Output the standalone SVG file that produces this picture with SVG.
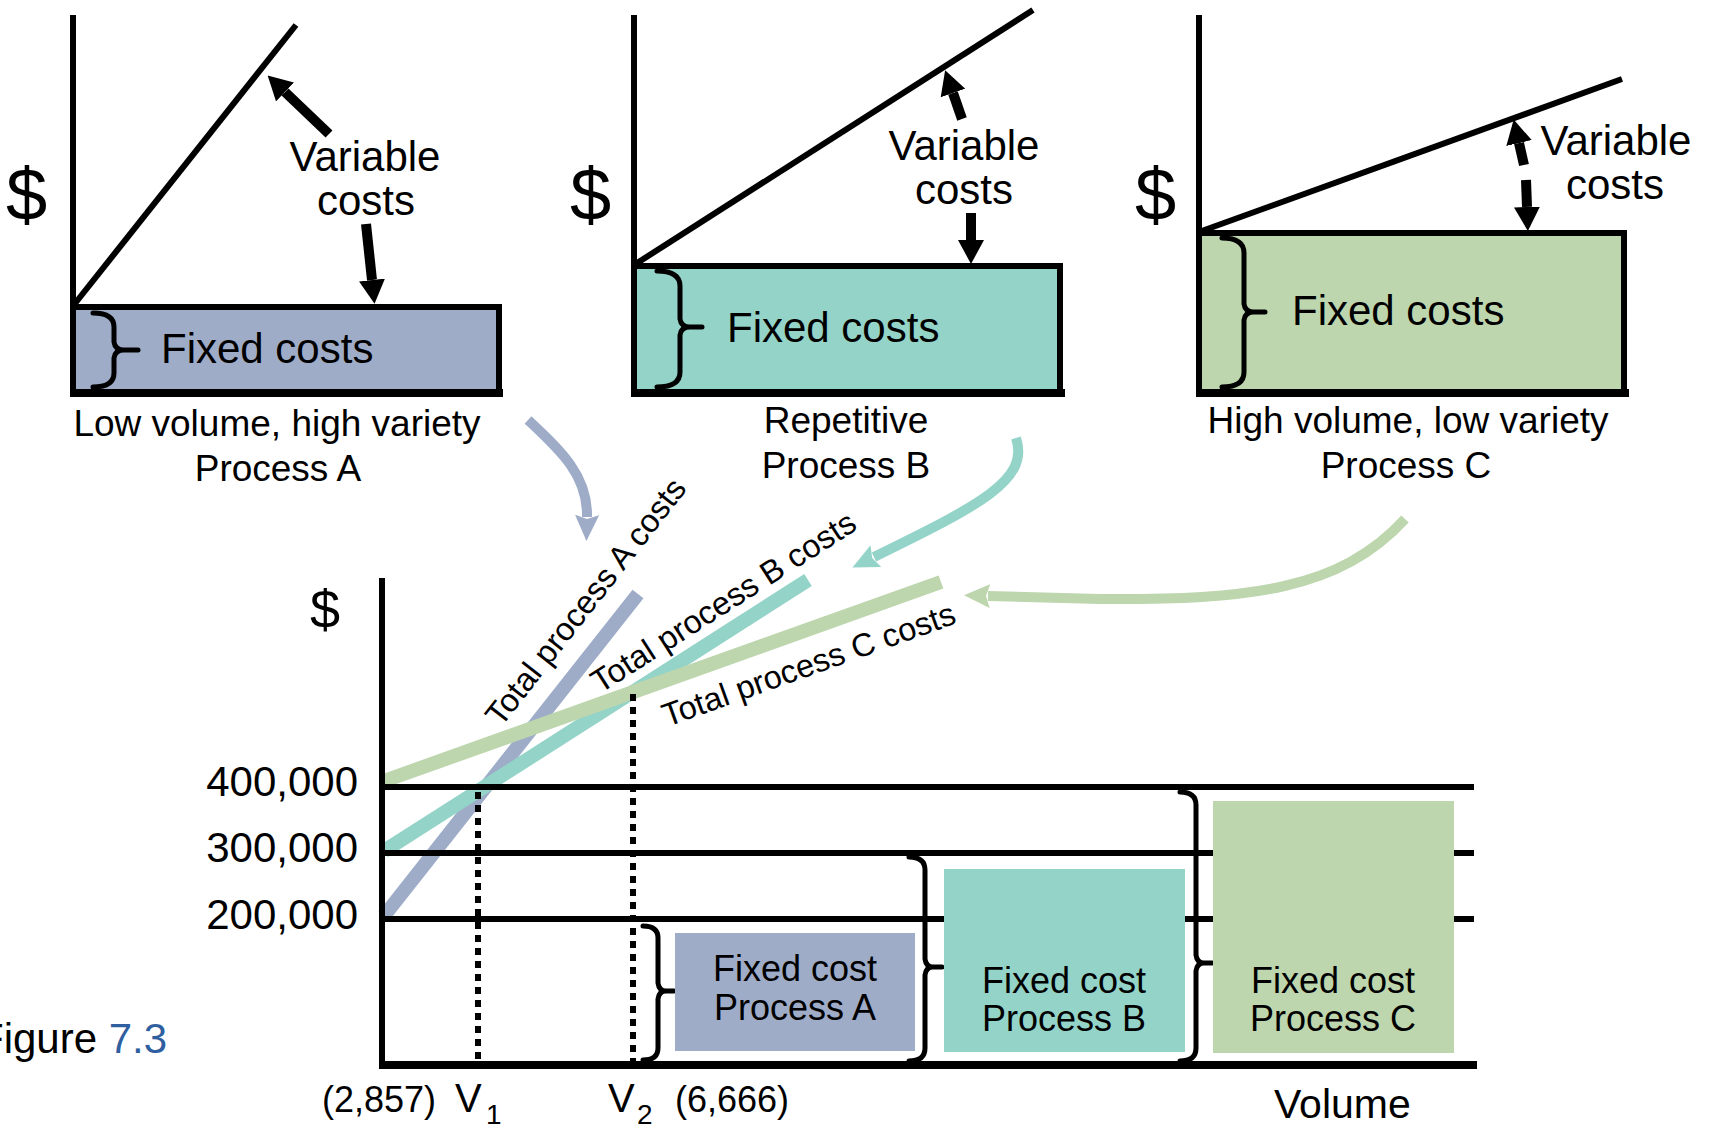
<svg xmlns="http://www.w3.org/2000/svg" width="1712" height="1126" viewBox="0 0 1712 1126">
  <style>
    text { font-family: "Liberation Sans", Arial, sans-serif; fill: #000; }
    .axis { stroke: #000; stroke-width: 6; fill: none; }
    .base { stroke: #000; stroke-width: 8; fill: none; }
    .brace { stroke: #000; stroke-width: 5; fill: none; stroke-linejoin: round; stroke-linecap: round; }
    .ptr { stroke: #000; stroke-width: 10; fill: none; }
    .lbl { font-size: 42px; text-anchor: middle; }
    .cap { font-size: 37px; text-anchor: middle; }
    .fx { font-size: 42px; }
    .dol { font-size: 74px; }
    .tick { font-size: 42px; text-anchor: end; }
    .curve { font-size: 32.5px; }
    .fc { font-size: 36px; text-anchor: middle; }
    .flow { fill: none; stroke-width: 10; }
    .tot { fill: none; stroke-width: 14; stroke-linecap: butt; }
    .dash { stroke: #000; stroke-width: 6; stroke-dasharray: 7 6; }
  </style>
  <defs>
    <marker id="hd" viewBox="0 -13 24 26" markerUnits="userSpaceOnUse" markerWidth="24" markerHeight="26" refX="0" refY="0" orient="auto">
      <path d="M0,-13 L24,0 L0,13 z" fill="#000"/>
    </marker>
    <marker id="hdA" viewBox="-2 -12 26 24" markerUnits="userSpaceOnUse" markerWidth="26" markerHeight="24" refX="0" refY="0" orient="auto">
      <path d="M-2,-12 L24,0 L-2,12 L2,0 z" fill="#9eacc8"/>
    </marker>
    <marker id="hdB" viewBox="-2 -12 26 24" markerUnits="userSpaceOnUse" markerWidth="26" markerHeight="24" refX="0" refY="0" orient="auto">
      <path d="M-2,-12 L24,0 L-2,12 L2,0 z" fill="#93d3c8"/>
    </marker>
    <marker id="hdC" viewBox="-2 -12 26 24" markerUnits="userSpaceOnUse" markerWidth="26" markerHeight="24" refX="0" refY="0" orient="auto">
      <path d="M-2,-12 L24,0 L-2,12 L2,0 z" fill="#bdd6ae"/>
    </marker>
  </defs>
  <rect width="1712" height="1126" fill="#fff"/>

  <!-- Process A: low volume, high variety -->
  <g id="chart-a">
    <rect x="73" y="307" width="426" height="86" fill="#9eacc8" stroke="#000" stroke-width="6"/>
    <line class="axis" x1="73" y1="15" x2="73" y2="393"/>
    <line class="base" x1="70" y1="393" x2="503" y2="393"/>
    <line class="axis" x1="73" y1="306" x2="296" y2="25"/>
    <path class="brace" d="M93,313 Q114,313 114,327 L114,342 Q115,350 124,350 L138,350 L124,350 Q115,350 114,358 L114,373 Q114,387 93,387"/>
    <text class="fx" x="161" y="363">Fixed costs</text>
    <text class="dol" x="6" y="220">$</text>
    <text class="lbl" x="365" y="171">Variable</text>
    <text class="lbl" x="366" y="215">costs</text>
    <line class="ptr" x1="329" y1="134" x2="285" y2="92" marker-end="url(#hd)"/>
    <line class="ptr" x1="366" y1="224" x2="372" y2="280" marker-end="url(#hd)"/>
    <text class="cap" x="277" y="436">Low volume, high variety</text>
    <text class="cap" x="278" y="481">Process A</text>
  </g>

  <!-- Process B: repetitive -->
  <g id="chart-b">
    <rect x="634" y="266" width="426" height="127" fill="#93d3c8" stroke="#000" stroke-width="6"/>
    <line class="axis" x1="634" y1="15" x2="634" y2="393"/>
    <line class="base" x1="631" y1="393" x2="1065" y2="393"/>
    <line class="axis" x1="634" y1="265" x2="1033" y2="10"/>
    <path class="brace" d="M657,271 Q680,271 680,286 L680,319 Q681,327 690,327 L702,327 L690,327 Q681,327 680,335 L680,372 Q680,387 657,387"/>
    <text class="fx" x="727" y="342">Fixed costs</text>
    <text class="dol" x="570" y="220">$</text>
    <text class="lbl" x="964" y="160">Variable</text>
    <text class="lbl" x="964" y="204">costs</text>
    <line class="ptr" x1="962" y1="119" x2="953" y2="93" marker-end="url(#hd)"/>
    <line class="ptr" x1="971" y1="213" x2="971" y2="240" marker-end="url(#hd)"/>
    <text class="cap" x="846" y="433">Repetitive</text>
    <text class="cap" x="846" y="478">Process B</text>
  </g>

  <!-- Process C: high volume, low variety -->
  <g id="chart-c">
    <rect x="1199" y="233" width="425" height="160" fill="#bdd6ae" stroke="#000" stroke-width="6"/>
    <line class="axis" x1="1199" y1="15" x2="1199" y2="393"/>
    <line class="base" x1="1196" y1="393" x2="1629" y2="393"/>
    <line class="axis" x1="1199" y1="232" x2="1622" y2="79"/>
    <path class="brace" d="M1222,238 Q1244,238 1244,253 L1244,304 Q1245,312 1254,312 L1265,312 L1254,312 Q1245,312 1244,320 L1244,372 Q1244,387 1222,387"/>
    <text class="fx" x="1292" y="325">Fixed costs</text>
    <text class="dol" x="1135" y="220">$</text>
    <text class="lbl" x="1616" y="155">Variable</text>
    <text class="lbl" x="1615" y="199">costs</text>
    <line class="ptr" x1="1524" y1="165" x2="1519" y2="143" marker-end="url(#hd)"/>
    <line class="ptr" x1="1526" y1="180" x2="1527" y2="207" marker-end="url(#hd)"/>
    <text class="cap" x="1408" y="433">High volume, low variety</text>
    <text class="cap" x="1406" y="478">Process C</text>
  </g>

  <!-- Flow arrows from each process into the comparison chart -->
  <g id="connectors">
    <path class="flow" stroke="#9eacc8" d="M528,420 C560,450 588,475 587,517" marker-end="url(#hdA)"/>
    <path class="flow" stroke="#93d3c8" d="M1016,438 C1030,480 980,505 874,557" marker-end="url(#hdB)"/>
    <path class="flow" stroke="#bdd6ae" d="M1405,519 C1340,590 1250,600 1100,599 L988,596" marker-end="url(#hdC)"/>
  </g>

  <!-- Break-even comparison chart -->
  <g id="comparison">
    <text x="310" y="628" style="font-size:54px">$</text>
    <text class="tick" x="358" y="796">400,000</text>
    <text class="tick" x="358" y="862">300,000</text>
    <text class="tick" x="358" y="929">200,000</text>

    <line class="tot" stroke="#9eacc8" x1="384" y1="916" x2="638" y2="594"/>
    <line class="tot" stroke="#93d3c8" x1="384" y1="851" x2="808" y2="580"/>
    <line class="tot" stroke="#bdd6ae" x1="384" y1="781" x2="941" y2="582"/>

    <text class="curve" transform="translate(501,728) rotate(-52)">Total process A costs</text>
    <text class="curve" transform="translate(600,694) rotate(-32.6)">Total process B costs</text>
    <text class="curve" transform="translate(667,727) rotate(-19.7)">Total process C costs</text>

    <line class="dash" x1="478" y1="792" x2="478" y2="1062"/>
    <line class="dash" x1="633" y1="694" x2="633" y2="1062"/>

    <line class="axis" x1="382" y1="787" x2="1474" y2="787"/>
    <line class="axis" x1="382" y1="853" x2="1474" y2="853"/>
    <line class="axis" x1="382" y1="919" x2="1474" y2="919"/>
    <line class="axis" x1="382" y1="578" x2="382" y2="1065"/>
    <line class="base" x1="379" y1="1065" x2="1477" y2="1065"/>

    <text x="322" y="1112" style="font-size:36px">(2,857)</text>
    <text x="455" y="1112" style="font-size:40px">V</text>
    <text x="486" y="1124" style="font-size:28px">1</text>
    <text x="608" y="1112" style="font-size:40px">V</text>
    <text x="637" y="1124" style="font-size:28px">2</text>
    <text x="675" y="1112" style="font-size:36px">(6,666)</text>
    <text x="1274" y="1118" style="font-size:41px">Volume</text>
  </g>

  <g id="fixed-a">
    <path class="brace" d="M643,926 Q658,926 658,938 L658,983 Q659,991 666,991 L674,991 L666,991 Q659,991 658,999 L658,1048 Q658,1060 643,1060"/>
    <rect x="675" y="933" width="240" height="118" fill="#9eacc8"/>
    <text class="fc" x="795" y="981">Fixed cost</text>
    <text class="fc" x="795" y="1020">Process A</text>
  </g>
  <g id="fixed-b">
    <path class="brace" d="M909,857 Q925,857 925,870 L925,959 Q926,967 933,967 L942,967 L933,967 Q926,967 925,975 L925,1048 Q925,1061 909,1061"/>
    <rect x="944" y="869" width="241" height="183" fill="#93d3c8"/>
    <text class="fc" x="1064" y="993">Fixed cost</text>
    <text class="fc" x="1064" y="1031">Process B</text>
  </g>
  <g id="fixed-c">
    <path class="brace" d="M1180,792 Q1196,792 1196,805 L1196,955 Q1197,963 1204,963 L1212,963 L1204,963 Q1197,963 1196,971 L1196,1048 Q1196,1061 1180,1061"/>
    <rect x="1213" y="801" width="241" height="252" fill="#bdd6ae"/>
    <text class="fc" x="1333" y="993">Fixed cost</text>
    <text class="fc" x="1333" y="1031">Process C</text>
  </g>

  <g id="caption">
    <text x="-22" y="1053" style="font-size:42px">Figure <tspan fill="#2f5f9f">7.3</tspan></text>
  </g>
</svg>
